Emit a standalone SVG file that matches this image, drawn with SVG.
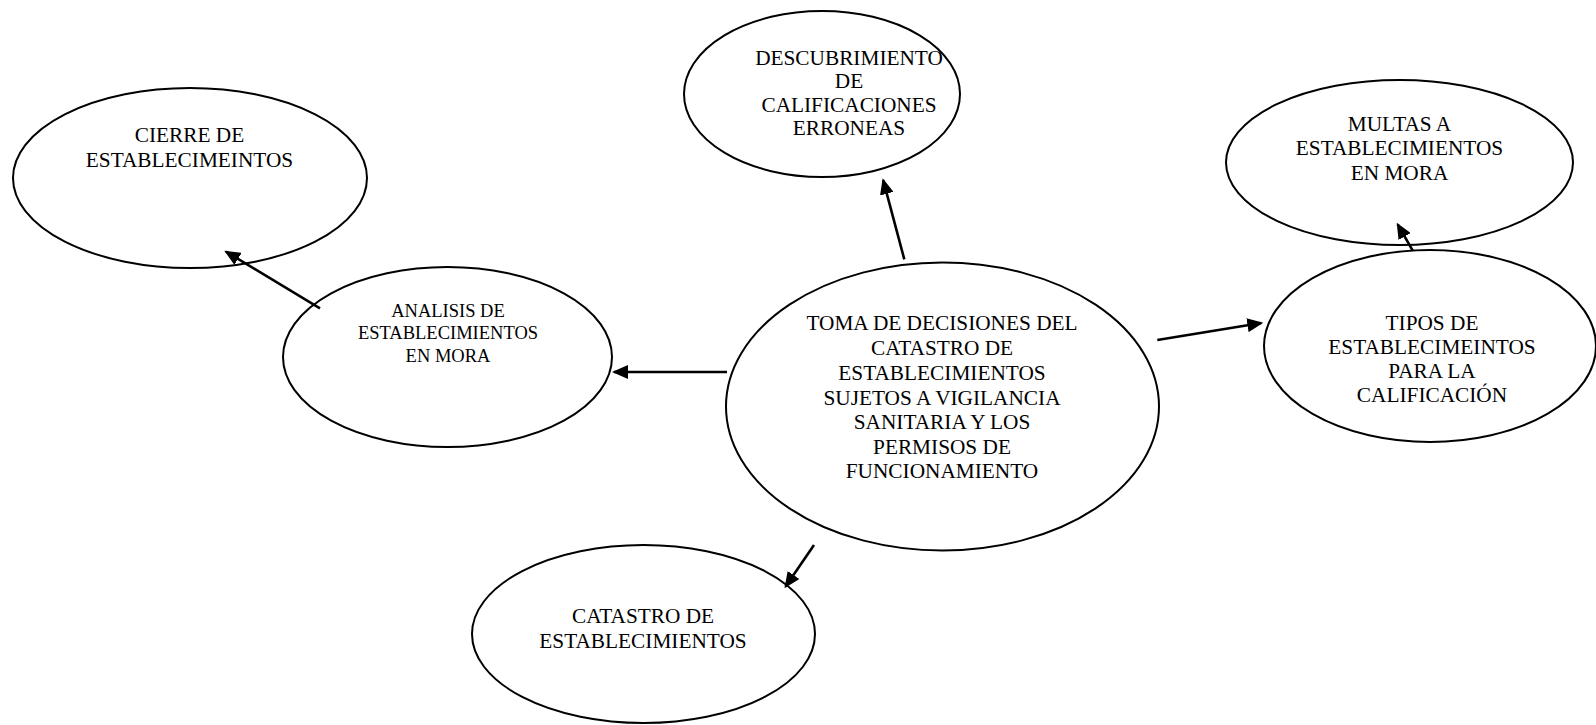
<svg xmlns="http://www.w3.org/2000/svg" width="1596" height="725" viewBox="0 0 1596 725">
<style>
  .node ellipse { fill: #ffffff; stroke: #000000; stroke-width: 2; }
  .node text { font-family: "Liberation Serif", "Times New Roman", serif; font-size: 21.3px; fill: #000000; text-anchor: middle; }
  .node text.small { font-size: 18.5px; }
  .edges line { stroke: #000000; stroke-width: 2.6; marker-end: url(#arrow); }
</style>
<defs>
  <marker id="arrow" markerUnits="userSpaceOnUse" markerWidth="16" markerHeight="14" viewBox="0 0 16 14" refX="14" refY="7" orient="auto">
    <path d="M0,0 L16,7 L0,14 z" fill="#000000"/>
  </marker>
</defs>
<rect x="0" y="0" width="1596" height="725" fill="#ffffff"/>

<g id="cierre" class="node">
  <ellipse cx="190" cy="178" rx="177" ry="90"/>
  <text x="189.5" y="142">CIERRE DE</text>
  <text x="189.5" y="167">ESTABLECIMEINTOS</text>
</g>

<g id="descubrimiento" class="node">
  <ellipse cx="822" cy="94" rx="138" ry="83"/>
  <text x="849" y="65">DESCUBRIMIENTO</text>
  <text x="849" y="88">DE</text>
  <text x="849" y="112">CALIFICACIONES</text>
  <text x="849" y="135">ERRONEAS</text>
</g>

<g id="multas" class="node">
  <ellipse cx="1399.5" cy="162.5" rx="173.5" ry="82.5"/>
  <text x="1399.5" y="131">MULTAS A</text>
  <text x="1399.5" y="155">ESTABLECIMIENTOS</text>
  <text x="1399.5" y="180">EN MORA</text>
</g>

<g id="analisis" class="node">
  <ellipse cx="447.5" cy="357" rx="164.5" ry="90"/>
  <text class="small" x="448" y="317">ANALISIS DE</text>
  <text class="small" x="448" y="339">ESTABLECIMIENTOS</text>
  <text class="small" x="448" y="362">EN MORA</text>
</g>

<g id="toma" class="node">
  <ellipse cx="942.5" cy="406.5" rx="216.5" ry="144"/>
  <text x="942" y="330">TOMA DE DECISIONES DEL</text>
  <text x="942" y="355">CATASTRO DE</text>
  <text x="942" y="380">ESTABLECIMIENTOS</text>
  <text x="942" y="405">SUJETOS A VIGILANCIA</text>
  <text x="942" y="429">SANITARIA Y LOS</text>
  <text x="942" y="454">PERMISOS DE</text>
  <text x="942" y="478">FUNCIONAMIENTO</text>
</g>

<g id="tipos" class="node">
  <ellipse cx="1430" cy="346" rx="166" ry="96"/>
  <text x="1432" y="330">TIPOS DE</text>
  <text x="1432" y="354">ESTABLECIMEINTOS</text>
  <text x="1432" y="378">PARA LA</text>
  <text x="1432" y="402">CALIFICACIÓN</text>
</g>

<g id="catastro" class="node">
  <ellipse cx="643.5" cy="634" rx="171.5" ry="89"/>
  <text x="643" y="623">CATASTRO DE</text>
  <text x="643" y="648">ESTABLECIMIENTOS</text>
</g>

<g id="connectors" class="edges">
  <line x1="320" y1="308.3" x2="226" y2="251.7"/>
  <line x1="727" y1="372" x2="614" y2="372"/>
  <line x1="904.3" y1="259.3" x2="883.2" y2="180.2"/>
  <line x1="814" y1="545" x2="785.6" y2="586.6"/>
  <line x1="1157.3" y1="340" x2="1261.3" y2="323"/>
  <line x1="1412.7" y1="250.7" x2="1397.7" y2="224.4"/>
</g>
</svg>
